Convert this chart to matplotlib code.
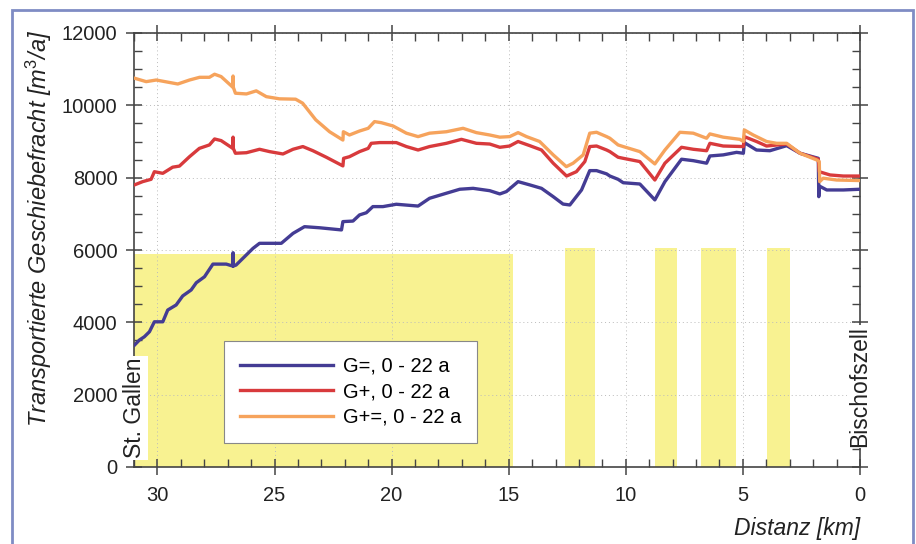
import matplotlib
matplotlib.use("Agg")
import matplotlib.pyplot as plt
from matplotlib.patches import Rectangle
from matplotlib.ticker import MultipleLocator

plt.rcParams['font.family'] = ['Liberation Sans', 'DejaVu Sans']
plt.rcParams['mathtext.fontset'] = 'custom'
plt.rcParams['mathtext.rm'] = 'Liberation Sans'
plt.rcParams['mathtext.it'] = 'Liberation Sans:italic'

# ---- data ----
blue_km = [30.98, 30.77, 30.56, 30.34, 30.13, 29.77, 29.56, 29.2, 28.92, 28.56, 28.34, 27.99,
           27.63, 27.06, 26.78, 26.77, 26.76, 26.64, 26.28, 25.92, 25.64, 24.71, 24.21, 23.72,
           23.08, 22.14, 22.08, 21.65, 21.37, 21.08, 20.8, 20.37, 19.8, 18.87, 18.38, 17.66,
           17.09, 16.52, 15.81, 15.38, 15.1, 14.6, 14.1, 13.6, 13.1, 12.68, 12.39, 11.89,
           11.54, 11.25, 10.82, 10.68, 10.33, 10.11, 9.4, 8.76, 8.33, 7.62, 7.12, 6.55, 6.41,
           5.84, 5.27, 4.98, 4.94, 4.42, 3.85, 3.13, 2.56, 1.78, 1.76, 1.74, 1.42, 0.71, 0.0]
blue_val = [3370, 3510, 3600, 3740, 4015, 4015, 4340, 4480, 4730, 4895, 5095, 5260,
            5610, 5610, 5555, 5925, 5555, 5585, 5815, 6045, 6185, 6185, 6460, 6645,
            6615, 6555, 6785, 6800, 6970, 7030, 7200, 7200, 7265, 7215, 7430, 7570,
            7680, 7705, 7640, 7550, 7615, 7890, 7800, 7705, 7475, 7270, 7245, 7660,
            8195, 8195, 8105, 8045, 7955, 7860, 7825, 7385, 7890, 8510, 8470, 8400, 8600,
            8630, 8700, 8675, 8970, 8765, 8745, 8885, 8675, 8535, 7475, 7770, 7660, 7660, 7680]

red_km = [30.98, 30.63, 30.27, 30.13, 29.77, 29.35, 29.06, 28.63, 28.21, 27.78, 27.56, 27.28,
          26.78, 26.77, 26.76, 26.67, 26.2, 25.64, 25.21, 24.64, 24.21, 23.79, 23.36, 22.79,
          22.08, 22.05, 21.8, 21.37, 21.0, 20.87, 20.51, 19.8, 19.37, 18.87, 18.38, 17.66,
          17.02, 16.38, 15.81, 15.38, 14.96, 14.6, 14.1, 13.6, 13.1, 12.53, 12.11, 11.75,
          11.54, 11.25, 10.82, 10.68, 10.33, 10.11, 9.4, 8.76, 8.33, 7.62, 7.12, 6.55, 6.41,
          5.84, 4.98, 4.94, 4.42, 3.99, 3.13, 2.56, 1.78, 1.74, 1.28, 0.71, 0.0]
red_val = [7800, 7890, 7955, 8165, 8120, 8290, 8320, 8580, 8810, 8905, 9070, 9025,
           8810, 9120, 8810, 8675, 8690, 8785, 8720, 8655, 8785, 8860, 8745, 8565,
           8325, 8535, 8580, 8720, 8810, 8950, 8970, 8970, 8860, 8765, 8860, 8950,
           9060, 8950, 8930, 8840, 8875, 9000, 8885, 8765, 8400, 8045, 8165, 8445,
           8860, 8875, 8765, 8720, 8565, 8535, 8445, 7935, 8400, 8840, 8785, 8745, 8950,
           8875, 8860, 9135, 9000, 8875, 8930, 8675, 8510, 8165, 8075, 8045, 8045]

orange_km = [30.98, 30.48, 30.05, 29.13, 28.63, 28.2, 27.78, 27.56, 27.28, 26.78, 26.77, 26.76,
             26.67, 26.2, 25.78, 25.35, 24.79, 24.1, 23.8, 23.24, 22.65, 22.08, 22.06, 21.8,
             21.37, 21.0, 20.73, 20.44, 19.94, 19.37, 18.87, 18.38, 17.66, 16.95, 16.38, 15.81,
             15.38, 14.96, 14.6, 14.24, 13.68, 13.1, 12.54, 12.25, 11.82, 11.54, 11.25, 10.82,
             10.68, 10.33, 10.11, 9.4, 8.76, 8.33, 7.69, 7.12, 6.55, 6.41, 5.84, 5.13, 4.98,
             4.94, 4.56, 3.99, 3.56, 3.13, 2.56, 1.85, 1.74, 1.72, 1.57, 1.0, 0.0]
orange_val = [10750, 10655, 10700, 10590, 10700, 10775, 10775, 10860, 10795, 10500, 10810, 10500,
              10335, 10315, 10400, 10240, 10180, 10170, 10060, 9600, 9270, 9040, 9270, 9180,
              9290, 9365, 9550, 9520, 9430, 9230, 9135, 9230, 9270, 9365, 9245, 9180,
              9120, 9135, 9245, 9135, 9000, 8630, 8305, 8400, 8630, 9230, 9255, 9135,
              9090, 8905, 8860, 8720, 8380, 8765, 9255, 9230, 9090, 9210, 9120, 9060, 9000,
              9320, 9180, 9000, 8950, 8950, 8675, 8490, 8445, 7890, 7985, 7935, 7920]

series_labels = ['G=, 0 - 22 a', 'G+, 0 - 22 a', 'G+=, 0 - 22 a']
series_colors = ['#443c94', '#d83a3c', '#f6a35c']

# yellow background bands (km start, km end, top value)
band_start = [31.0, 12.58, 8.76, 6.79, 3.96]
band_end = [14.8, 11.30, 7.81, 5.30, 2.99]
band_top = [5900, 6050, 6050, 6050, 6050]

fig = plt.figure(figsize=(9.16, 5.44), dpi=100)
ax = fig.add_axes([134/916, 1-467/544, (860-134)/916, (467-33)/544])

for s, e, t in zip(band_start, band_end, band_top):
    ax.fill_between([s, e], 0, t, color='#f8f291', lw=0, zorder=0.5)

for km, val, lab, col in zip([blue_km, red_km, orange_km],
                             [blue_val, red_val, orange_val],
                             series_labels, series_colors):
    ax.plot(km, val, color=col, lw=2.4, label=lab, zorder=3, solid_joinstyle='round')

ax.set_xlim(31, 0)
ax.set_ylim(0, 12000)
ax.xaxis.set_major_locator(MultipleLocator(5))
ax.xaxis.set_minor_locator(MultipleLocator(1))
ax.yaxis.set_major_locator(MultipleLocator(2000))
ax.yaxis.set_minor_locator(MultipleLocator(500))
ax.tick_params(which='major', direction='inout', length=12, width=1.1, color='#444444',
               top=True, right=True, labelsize=14.5, labelcolor='#222222')
ax.tick_params(axis='x', which='major', pad=8)
ax.tick_params(axis='y', which='major', pad=6)
ax.tick_params(which='minor', direction='in', length=5.5, width=1.0, color='#444444',
               top=True, right=True)
for sp in ax.spines.values():
    sp.set_color('#444444')
    sp.set_linewidth(1.2)
ax.grid(True, which='major', color='#bbbbbb', ls=(0, (1, 3)), lw=0.7, zorder=1)

ax.set_ylabel(r'Transportierte Geschiebefracht [m$^{3}$/a]', fontsize=17, style='italic',
              color='#222222')
ax.yaxis.set_label_coords(-0.11, 0.55)
ax.set_xlabel('Distanz [km]', fontsize=16.5, style='italic', color='#222222')
ax.xaxis.set_label_coords(1.0, -0.115)
ax.xaxis.label.set_ha('right')

ax.text(30.97, 1630, 'St. Gallen', rotation=90, fontsize=16.5, ha='center', va='center',
        color='#222222', zorder=6,
        bbox=dict(facecolor='white', edgecolor='none', pad=1.5))
ax.text(0.0, 2225, 'Bischofszell', rotation=90, fontsize=16.5, ha='center', va='center',
        color='#222222', zorder=6, clip_on=False,
        bbox=dict(facecolor='white', edgecolor='none', pad=1.0))

leg = ax.legend(loc='lower left', bbox_to_anchor=((224-134)/726, (467-443)/434),
                borderaxespad=0, fontsize=14.5, frameon=True, fancybox=False, framealpha=1,
                handlelength=4.6, handletextpad=0.5, borderpad=0.8, labelspacing=0.32)
leg.get_frame().set_edgecolor('#888888')
leg.get_frame().set_facecolor('white')
leg.get_frame().set_linewidth(0.8)
leg.set_zorder(7)
for h in leg.get_lines():
    h.set_linewidth(2.4)

fig.patches.append(Rectangle((12/916, -0.02), (913-12)/916, 1 - 10/544 + 0.02,
                             transform=fig.transFigure, fill=False,
                             edgecolor='#7f8cc4', lw=2.0))

fig.savefig('out.png', dpi=100, facecolor='white')
